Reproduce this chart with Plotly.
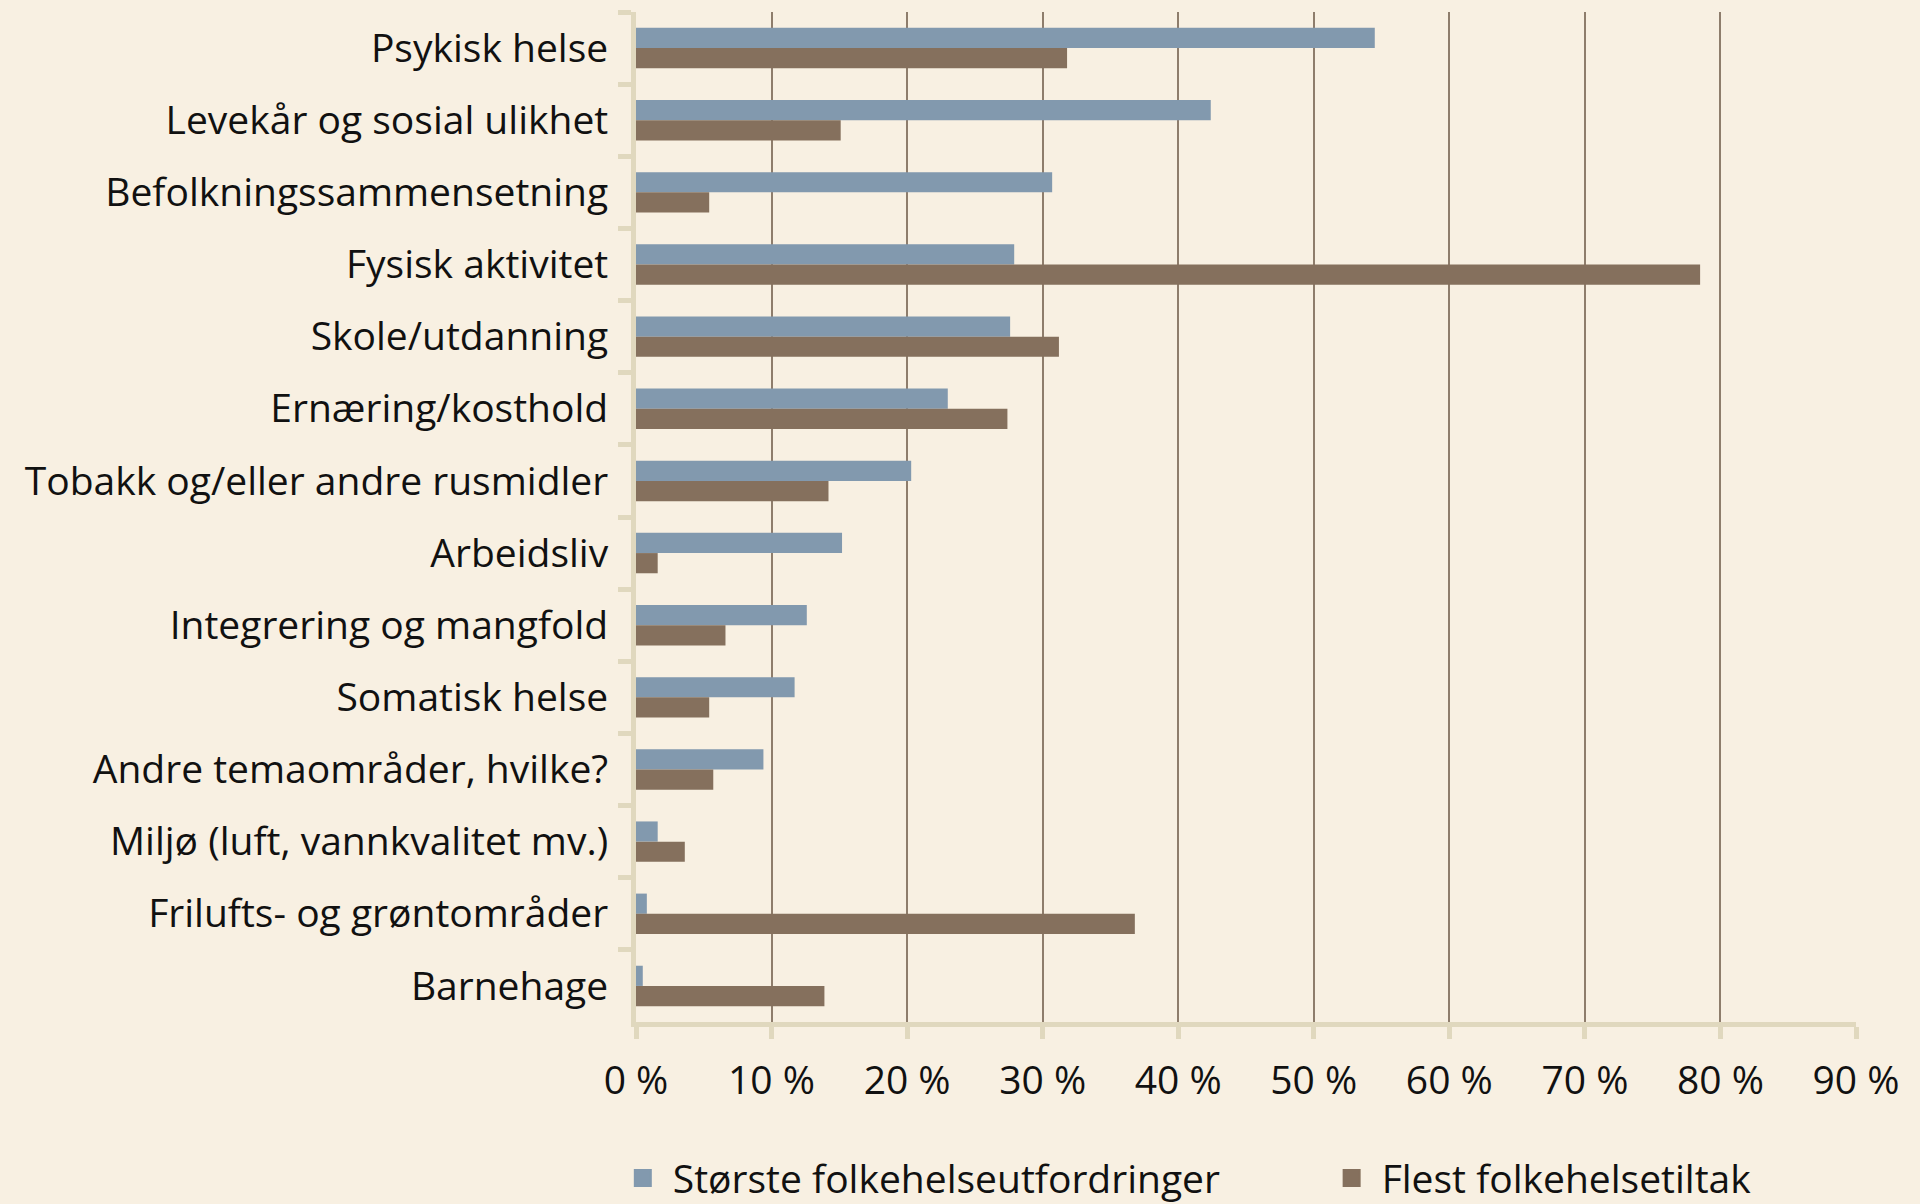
import plotly.graph_objects as go

categories = [
    "Psykisk helse",
    "Levekår og sosial ulikhet",
    "Befolkningssammensetning",
    "Fysisk aktivitet",
    "Skole/utdanning",
    "Ernæring/kosthold",
    "Tobakk og/eller andre rusmidler",
    "Arbeidsliv",
    "Integrering og mangfold",
    "Somatisk helse",
    "Andre temaområder, hvilke?",
    "Miljø (luft, vannkvalitet mv.)",
    "Frilufts- og grøntområder",
    "Barnehage",
]
storste = [54.5, 42.4, 30.7, 27.9, 27.6, 23.0, 20.3, 15.2, 12.6, 11.7, 9.4, 1.6, 0.8, 0.5]
flest = [31.8, 15.1, 5.4, 78.5, 31.2, 27.4, 14.2, 1.6, 6.6, 5.4, 5.7, 3.6, 36.8, 13.9]
series_names = ["Største folkehelseutfordringer", "Flest folkehelsetiltak"]
x_ticks = [0, 10, 20, 30, 40, 50, 60, 70, 80, 90]
x_tick_labels = ["0 %", "10 %", "20 %", "30 %", "40 %", "50 %", "60 %", "70 %", "80 %", "90 %"]

BLUE = "#8299AE"
BROWN = "#85705D"
BG = "#F8F0E2"
AXIS = "#E0D8BE"
GRID = "#8E7D6C"
FONT = "Open Sans"
colors = [BLUE, BROWN]
legend_ids = ["legend", "legend2"]

fig = go.Figure()
for name, vals, col in zip(series_names, [storste, flest], colors):
    fig.add_trace(go.Bar(y=categories, x=vals, orientation="h", name=name,
                         marker=dict(color=col, line=dict(width=0)),
                         showlegend=False))
# legend proxies with larger square symbols, each in its own legend box
for name, col, lg in zip(series_names, colors, legend_ids):
    fig.add_trace(go.Scatter(x=[None], y=[None], mode="markers", name=name,
                             marker=dict(symbol="square", size=16, color=col,
                                         line=dict(width=2, color=col)),
                             showlegend=True, legend=lg))

legend_common = dict(orientation="h", xanchor="left", y=-0.1545, yanchor="middle",
                     font=dict(size=39), itemwidth=50, bgcolor="rgba(0,0,0,0)",
                     itemsizing="trace")

fig.update_layout(
    width=1920, height=1204,
    paper_bgcolor=BG, plot_bgcolor=BG,
    barmode="group", bargap=0.44, bargroupgap=0,
    margin=dict(l=636, r=64, t=12, b=182, autoexpand=False),
    font=dict(family=FONT, size=39, color="#111111"),
    showlegend=True,
    legend=dict(x=-0.019, **legend_common),
    legend2=dict(x=0.562, **legend_common),
)
fig.update_xaxes(
    range=[0, 90], tickmode="array", tickvals=x_ticks, ticktext=x_tick_labels,
    showgrid=True, gridcolor=GRID, gridwidth=1.5,
    showline=True, linecolor=AXIS, linewidth=5,
    ticks="outside", ticklen=12, tickwidth=5, tickcolor=AXIS,
    ticklabelstandoff=8, zeroline=False,
)
fig.update_yaxes(
    autorange="reversed", type="category",
    showline=True, linecolor=AXIS, linewidth=5,
    ticks="outside", ticklen=13, tickwidth=5, tickcolor=AXIS,
    tickson="boundaries", showgrid=False, ticklabelstandoff=15,
)

fig.write_html("out.html", config={"displayModeBar": False},
               post_script="document.body.style.margin='0';document.body.style.background='" + BG + "';")
